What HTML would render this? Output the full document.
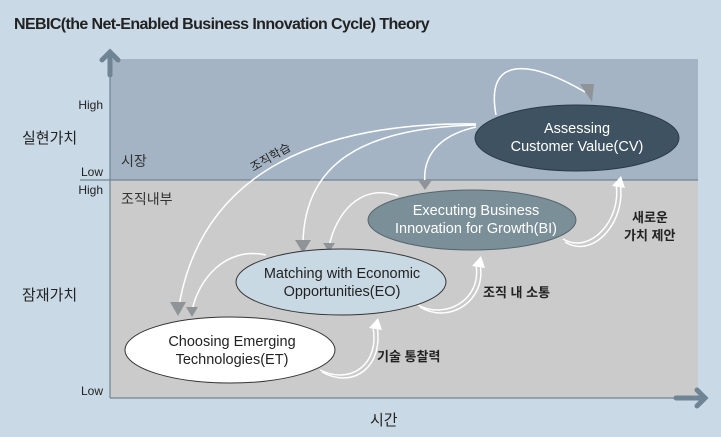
<!DOCTYPE html>
<html><head><meta charset="utf-8"><style>
body{margin:0;width:721px;height:432px;background:#c9d9e6;overflow:hidden;font-family:"Liberation Sans","Noto Sans CJK KR",sans-serif}
</style></head><body>
<svg width="721" height="432" viewBox="0 0 721 432" xmlns="http://www.w3.org/2000/svg" style="font-family:'Liberation Sans','Noto Sans CJK KR',sans-serif">
<rect width="721" height="432" fill="#c9d9e6"/>
<text x="14" y="29" font-size="16" font-weight="bold" fill="#222" letter-spacing="-0.6">NEBIC(the Net-Enabled Business Innovation Cycle) Theory</text>
<rect x="110" y="59" width="588" height="121" fill="#a4b4c4"/>
<rect x="110" y="180" width="588" height="218" fill="#cbcbcb"/>
<line x1="80" y1="180" x2="698" y2="180" stroke="#6f8494" stroke-width="1.2"/>
<line x1="110" y1="398" x2="698" y2="398" stroke="#6f8494" stroke-width="1.2"/>
<line x1="110" y1="66" x2="110" y2="398" stroke="#6f8494" stroke-width="1.2"/>
<path d="M110 52 L110 75 M102 60 L110 52 L118 60" stroke="#6f8494" stroke-width="5" fill="none" stroke-linecap="round"/>
<path d="M676 398 L705 398 M697 390 L705 398 L697 406" stroke="#6f8494" stroke-width="5" fill="none" stroke-linecap="round"/>
<g font-size="12" fill="#222" text-anchor="end">
<text x="103" y="109">High</text><text x="103" y="176">Low</text><text x="103" y="194">High</text><text x="103" y="395">Low</text></g>
<text x="22" y="143" font-size="15" fill="#222">실현가치</text>
<text x="22" y="300" font-size="15" fill="#222">잠재가치</text>
<text x="370" y="425" font-size="15" fill="#222">시간</text>
<text x="121" y="166" font-size="14" fill="#333">시장</text>
<text x="121" y="204" font-size="14" fill="#333">조직내부</text>
<g stroke="#fff" stroke-width="1.5" fill="none">
<path d="M476 124 C 330 122 200 165 178 312"/>
<path d="M476 125 C 360 128 305 165 303 242"/>
<path d="M476 127 C 440 135 422 155 425 184"/>
<path d="M496 115 C 485 55 530 60 585 92"/>
<path d="M398 196 C 360 182 335 215 329 247"/>
<path d="M266 255 C 225 246 198 280 192 311"/>
<path d="M320 370 C 350 385 380 365 373 327 M322 372 C 355 390 384 365 377 326"/>
<path d="M418 305 C 445 320 482 300 476 265 M420 307 C 450 325 487 300 480 264"/>
<path d="M563 239 C 590 255 622 220 616 184 M565 242 C 594 260 627 220 620 183"/>
</g>
<g fill="#fff"><polygon points="369,328 378,318 382,330"/><polygon points="472,266 481,256 485,268"/><polygon points="612,186 621,176 625,188"/></g>
<g fill="#8f9499">
<polygon points="170,302 186,302 178,316"/><polygon points="186,307 198,307 192,317"/>
<polygon points="295,240 311,240 303,253"/><polygon points="323,243 335,243 329,252"/>
<polygon points="418,180 432,180 425,190"/><polygon points="580,84 594,84 592,102"/>
</g>
<text x="244" y="163" font-size="12" fill="#222" transform="rotate(-30 265 150)">조직학습</text>
<ellipse cx="577" cy="138" rx="102" ry="33" fill="#3f5261" stroke="#2a3a46"/>
<text x="577" y="133" font-size="14.5" fill="#fff" text-anchor="middle">Assessing</text>
<text x="577" y="151" font-size="14.5" fill="#fff" text-anchor="middle">Customer Value(CV)</text>
<ellipse cx="472" cy="220" rx="104" ry="30" fill="#7b8f99" stroke="#55656e"/>
<text x="476" y="215" font-size="14.5" fill="#fff" text-anchor="middle">Executing Business</text>
<text x="476" y="233" font-size="14.5" fill="#fff" text-anchor="middle">Innovation for Growth(BI)</text>
<ellipse cx="341" cy="282" rx="105" ry="33" fill="#c9d9e3" stroke="#333"/>
<text x="342" y="278" font-size="14.5" fill="#222" text-anchor="middle">Matching with Economic</text>
<text x="342" y="296" font-size="14.5" fill="#222" text-anchor="middle">Opportunities(EO)</text>
<ellipse cx="230" cy="350" rx="105" ry="33" fill="#fff" stroke="#333"/>
<text x="232" y="346" font-size="14.5" fill="#222" text-anchor="middle">Choosing Emerging</text>
<text x="232" y="364" font-size="14.5" fill="#222" text-anchor="middle">Technologies(ET)</text>
<g font-size="13" fill="#222" font-weight="bold">
<text x="377" y="361">기술 통찰력</text>
<text x="483" y="297">조직 내 소통</text>
<text x="632" y="222">새로운</text>
<text x="624" y="240">가치 제안</text>
</g>
</svg>
</body></html>
